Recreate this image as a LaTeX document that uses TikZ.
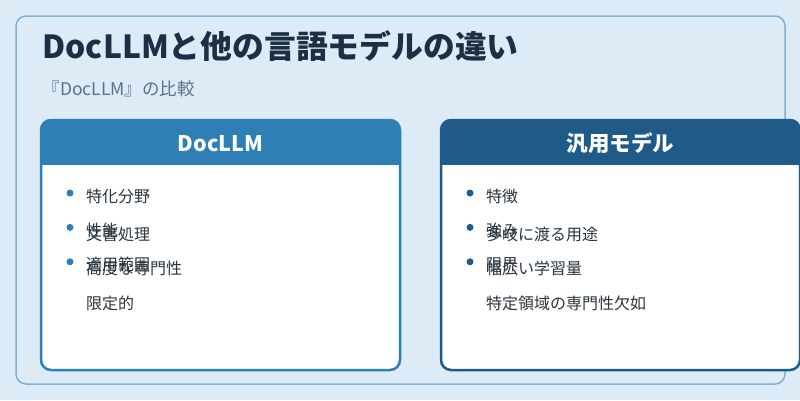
\documentclass[tikz,border=0pt]{standalone}
\usepackage{fontspec}
\setmainfont{Noto Sans CJK JP}
\usepackage{tikz}
\usetikzlibrary{positioning}
\definecolor{mbg}{HTML}{DDEBF6}
\definecolor{mframe}{HTML}{7DB1D7}
\definecolor{mdoc}{HTML}{2E7FB5}
\definecolor{mgen}{HTML}{1F5B88}
\definecolor{mtitle}{HTML}{1B2F45}
\definecolor{msub}{HTML}{5A7186}
\definecolor{mtext}{HTML}{29353F}
\tikzset{
  card/.style={draw=#1, fill=white, line width=2.5pt, rounded corners=10pt,
               minimum width=359pt, minimum height=250pt, inner sep=0pt,
               outer sep=0pt, anchor=north west},
  headtxt/.style={text=white, font=\fontsize{21.5}{25}\selectfont\bfseries},
  itemtxt/.style={text=mtext, font=\fontsize{16}{18}\selectfont, inner sep=0pt,
                  text height=13pt, text depth=3pt, text width=280pt, align=left},
}

\begin{document}
\begin{tikzpicture}[x=1pt, y=-1pt]
  \useasboundingbox (0,0) rectangle (800,400);
  \fill[mbg] (0,0) rectangle (800,400);
  \draw[mframe, line width=1.5pt, rounded corners=10pt] (16,16) rectangle (785,384);

  \node[anchor=west, text=mtitle, font=\fontsize{31.8}{36}\selectfont\bfseries] (title) at (39,46)
    {DocLLMと他の言語モデルの違い};
  \node[anchor=west, text=msub, font=\fontsize{17.5}{20}\selectfont] (sub) at (39,89)
    {『DocLLM』の比較};

  % DocLLM
  \node[card=mdoc] (doc) at (41,120) {};
  \begin{scope}
    \clip[rounded corners=10pt] (doc.north west) rectangle (doc.south east);
    \fill[mdoc] (doc.north west) rectangle ([yshift=-45pt]doc.north east);
  \end{scope}
  \node[headtxt] (doch) at ([yshift=-24pt]doc.north) {DocLLM};
  \node[itemtxt, anchor=west] (d1) at ([xshift=45pt, yshift=-77pt]doc.north west) {特化分野};
  \node[itemtxt, below=18pt of d1] (d2) {性能};
  \node[itemtxt, below=18pt of d2] (d3) {適用範囲};
  \node[itemtxt, below=22pt of d1] (v1) {文書処理};
  \node[itemtxt, below=18pt of v1] (v2) {高度な専門性};
  \node[itemtxt, below=18pt of v2] (v3) {限定的};
  \foreach \n in {d1,d2,d3}
    \fill[mdoc] ([xshift=-16pt, yshift=4pt]\n.west) circle (3.5pt);

  % 汎用モデル
  \node[card=mgen] (gen) at (441,120) {};
  \begin{scope}
    \clip[rounded corners=10pt] (gen.north west) rectangle (gen.south east);
    \fill[mgen] (gen.north west) rectangle ([yshift=-45pt]gen.north east);
  \end{scope}
  \node[headtxt] (genh) at ([yshift=-23pt]gen.north) {汎用モデル};
  \node[itemtxt, anchor=west] (g1) at ([xshift=45pt, yshift=-77pt]gen.north west) {特徴};
  \node[itemtxt, below=18pt of g1] (g2) {強み};
  \node[itemtxt, below=18pt of g2] (g3) {限界};
  \node[itemtxt, below=22pt of g1] (w1) {多岐に渡る用途};
  \node[itemtxt, below=18pt of w1] (w2) {幅広い学習量};
  \node[itemtxt, below=18pt of w2] (w3) {特定領域の専門性欠如};
  \foreach \n in {g1,g2,g3}
    \fill[mgen] ([xshift=-16pt, yshift=4pt]\n.west) circle (3.5pt);
\end{tikzpicture}
\end{document}
